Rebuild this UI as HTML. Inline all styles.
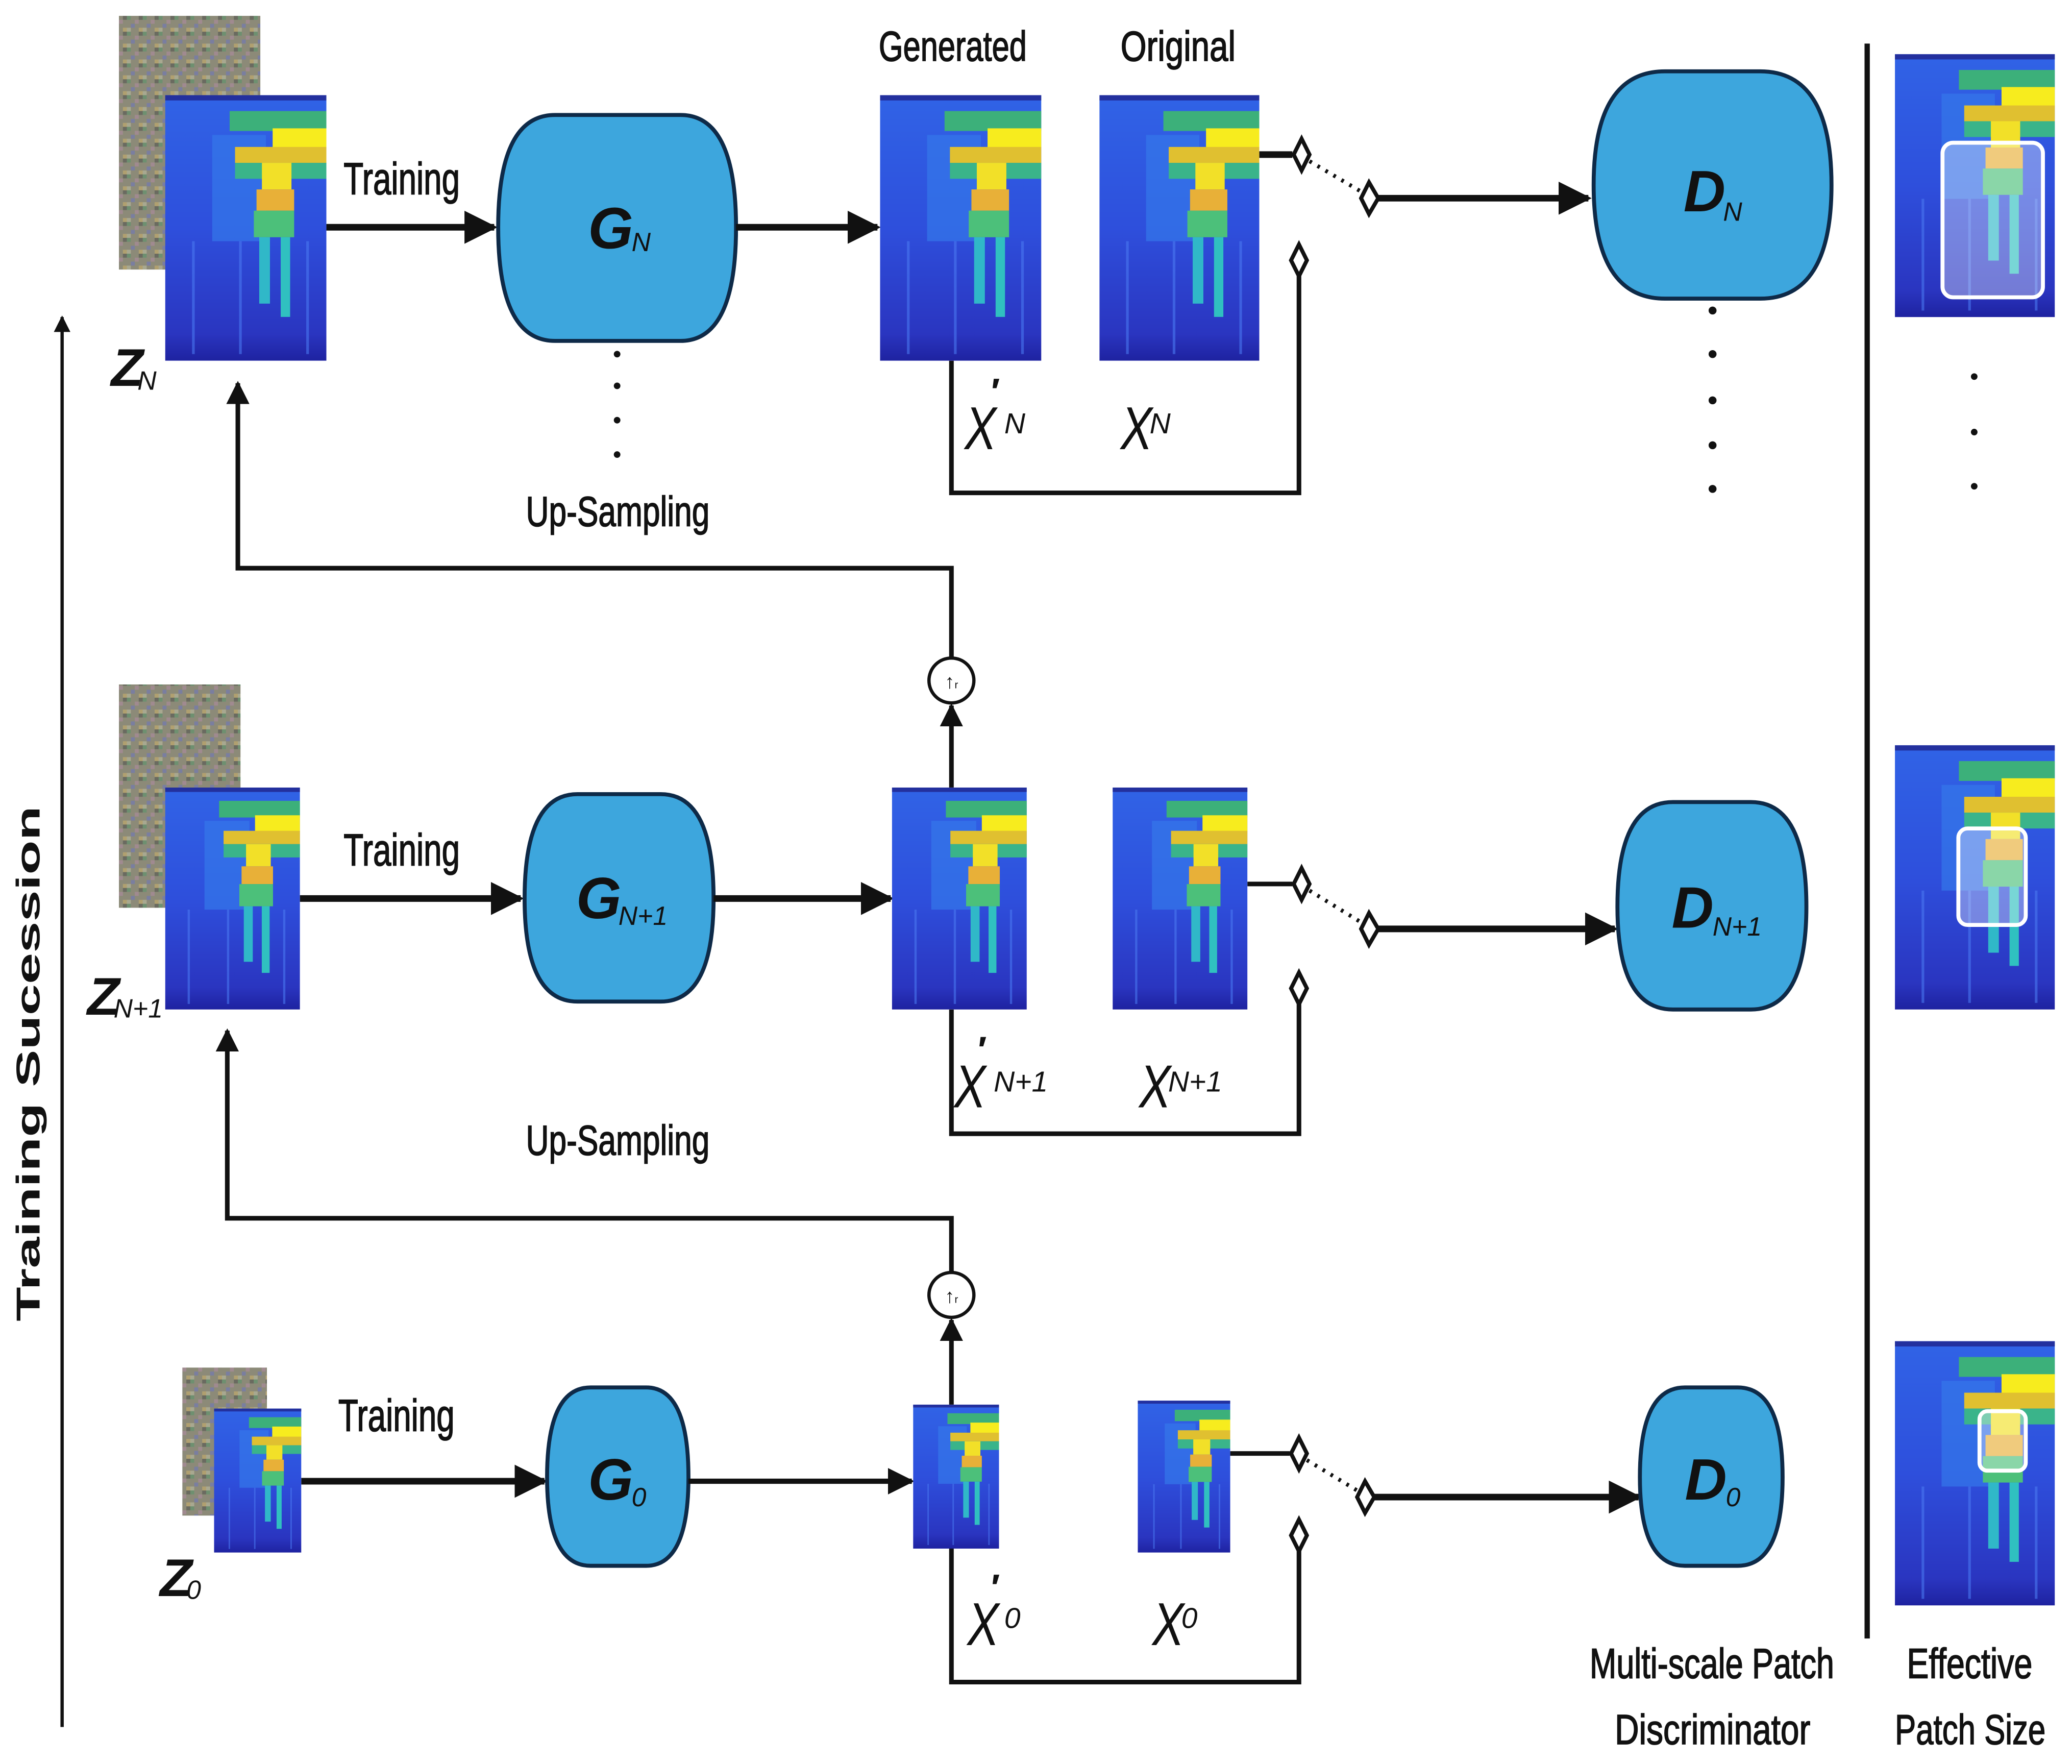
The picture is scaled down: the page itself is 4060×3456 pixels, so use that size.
<!DOCTYPE html>
<html><head><meta charset="utf-8"><style>html,body{margin:0;padding:0;background:#fff}svg{display:block}</style></head>
<body>
<svg width="4060" height="3456" viewBox="0 0 1568 1335" xmlns="http://www.w3.org/2000/svg" preserveAspectRatio="none">
<defs>
<linearGradient id="bg" x1="0" y1="0" x2="0" y2="1">
<stop offset="0" stop-color="#3063E6"/><stop offset="0.5" stop-color="#2E4FDC"/><stop offset="0.9" stop-color="#2A35C0"/><stop offset="1" stop-color="#1E22A0"/></linearGradient>
<symbol id="spec" viewBox="0 0 120 200" preserveAspectRatio="none">
<rect width="120" height="200" fill="url(#bg)"/>
<rect width="120" height="4" fill="#23309E"/>
<rect x="35" y="30" width="40" height="80" fill="#3478EA" opacity="0.7"/>
<rect x="48" y="12" width="72" height="15" fill="#3CB07A"/>
<rect x="80" y="25" width="40" height="16" fill="#F7EC1E"/>
<rect x="52" y="39" width="68" height="12" fill="#E0C030"/>
<rect x="52" y="51" width="68" height="12" fill="#3AB48A"/>
<rect x="72" y="51" width="22" height="20" fill="#F2E028"/>
<rect x="68" y="71" width="28" height="16" fill="#E8B038"/>
<rect x="66" y="87" width="30" height="20" fill="#4CC07A"/>
<rect x="70" y="107" width="8" height="50" fill="#30B8C8"/>
<rect x="86" y="107" width="7" height="60" fill="#30C0C0"/>
<rect x="20" y="110" width="2" height="85" fill="#4A78F0" opacity="0.6"/>
<rect x="55" y="110" width="2" height="85" fill="#4A78F0" opacity="0.6"/>
<rect x="105" y="110" width="2" height="85" fill="#4A78F0" opacity="0.6"/>
</symbol>
<pattern id="noise" width="12" height="12" patternUnits="userSpaceOnUse">
<rect width="12" height="12" fill="#8C8A78"/>
<rect x="0" y="0" width="3" height="3" fill="#6E9070"/><rect x="6" y="3" width="3" height="3" fill="#A08A90"/>
<rect x="3" y="6" width="3" height="3" fill="#7A7EA0"/><rect x="9" y="9" width="3" height="3" fill="#B0A070"/>
<rect x="9" y="0" width="3" height="3" fill="#6A6A60"/><rect x="0" y="9" width="3" height="3" fill="#A8A890"/>
</pattern>
<marker id="ah" viewBox="0 0 10 10" refX="9" refY="5" markerWidth="5" markerHeight="5" orient="auto" markerUnits="strokeWidth">
<path d="M0,0 L10,5 L0,10 z" fill="#111"/></marker>
</defs>
<g font-family="Liberation Sans, sans-serif" fill="#111">

<line x1="47" y1="1307" x2="47" y2="240" stroke="#111" stroke-width="2.5" marker-end="url(#ah)"/>
<text transform="translate(30,805) rotate(-90)" text-anchor="middle" font-size="25" font-weight="bold" textLength="390" lengthAdjust="spacingAndGlyphs">Training Sucession</text>

<line x1="1413" y1="33" x2="1413" y2="1240" stroke="#111" stroke-width="4"/>

<g stroke="#111" stroke-width="0.7">
<text x="260" y="147" font-size="34" textLength="88" lengthAdjust="spacingAndGlyphs">Training</text>
<text x="665" y="46" font-size="32" textLength="112" lengthAdjust="spacingAndGlyphs">Generated</text>
<text x="848" y="46" font-size="32" textLength="87" lengthAdjust="spacingAndGlyphs">Original</text>
<text x="398" y="398" font-size="32" textLength="139" lengthAdjust="spacingAndGlyphs">Up-Sampling</text>
<text x="260" y="655" font-size="34" textLength="88" lengthAdjust="spacingAndGlyphs">Training</text>
<text x="398" y="874" font-size="32" textLength="139" lengthAdjust="spacingAndGlyphs">Up-Sampling</text>
<text x="256" y="1083" font-size="34" textLength="88" lengthAdjust="spacingAndGlyphs">Training</text>
<text x="1203" y="1270" font-size="32" textLength="185" lengthAdjust="spacingAndGlyphs">Multi-scale Patch</text>
<text x="1222" y="1320" font-size="32" textLength="148" lengthAdjust="spacingAndGlyphs">Discriminator</text>
<text x="1443" y="1270" font-size="32" textLength="95" lengthAdjust="spacingAndGlyphs">Effective</text>
<text x="1434" y="1320" font-size="32" textLength="114" lengthAdjust="spacingAndGlyphs">Patch Size</text>
</g>

<!-- ROW N -->
<rect x="90" y="12" width="107" height="192" fill="url(#noise)"/>
<use href="#spec" x="125" y="72" width="122" height="201"/>
<line x1="247" y1="172" x2="374" y2="172" stroke="#111" stroke-width="5" marker-end="url(#ah)"/>
<path d="M420,87 H515 Q557,87 557,172 Q557,258 515,258 H420 Q377,258 377,172 Q377,87 420,87 Z" fill="#3DA6DD" stroke="#0E2A48" stroke-width="3"/>
<text x="445" y="188" font-size="44" font-weight="bold" font-style="italic">G</text><text x="478" y="190" font-size="20" font-style="italic">N</text>
<line x1="557" y1="172" x2="664" y2="172" stroke="#111" stroke-width="5" marker-end="url(#ah)"/>
<use href="#spec" x="666" y="72" width="122" height="201"/>
<use href="#spec" x="832" y="72" width="121" height="201"/>
<line x1="953" y1="117" x2="978" y2="117" stroke="#111" stroke-width="5"/>
<path d="M985,105 L991,117 L985,129 L979,117 Z" fill="#fff" stroke="#111" stroke-width="3"/>
<line x1="991" y1="122" x2="1030" y2="145" stroke="#111" stroke-width="3" stroke-dasharray="2,5"/>
<path d="M1036,138 L1043,150 L1036,162 L1030,150 Z" fill="#fff" stroke="#111" stroke-width="3"/>
<line x1="1043" y1="150" x2="1202" y2="150" stroke="#111" stroke-width="5" marker-end="url(#ah)"/>
<path d="M1260,54 H1332 Q1386,54 1386,140 Q1386,226 1332,226 H1260 Q1206,226 1206,140 Q1206,54 1260,54 Z" fill="#3DA6DD" stroke="#0E2A48" stroke-width="3"/>
<text x="1274" y="160" font-size="44" font-weight="bold" font-style="italic">D</text><text x="1304" y="167" font-size="20" font-style="italic">N</text>
<g fill="#111"><circle cx="467" cy="268" r="2.5"/><circle cx="467" cy="292" r="2.5"/><circle cx="467" cy="318" r="2.5"/><circle cx="467" cy="344" r="2.5"/>
<circle cx="1296" cy="235" r="3"/><circle cx="1296" cy="268" r="3"/><circle cx="1296" cy="303" r="3"/><circle cx="1296" cy="337" r="3"/><circle cx="1296" cy="370" r="3"/>
<circle cx="1494" cy="285" r="2.5"/><circle cx="1494" cy="327" r="2.5"/><circle cx="1494" cy="368" r="2.5"/></g>
<text x="730" y="340" font-size="46" font-style="italic" textLength="24" lengthAdjust="spacingAndGlyphs">X</text><text x="750" y="306" font-size="28" font-weight="bold">′</text><text x="760" y="328" font-size="22" font-style="italic">N</text>
<text x="848" y="340" font-size="46" font-style="italic" textLength="24" lengthAdjust="spacingAndGlyphs">X</text><text x="870" y="328" font-size="22" font-style="italic">N</text>
<path d="M720,273 V373 H983 V205" fill="none" stroke="#111" stroke-width="3.5"/>
<path d="M983,185 L989,197 L983,209 L977,197 Z" fill="#fff" stroke="#111" stroke-width="3"/>
<text x="84" y="292" font-size="40" font-weight="bold" font-style="italic">Z</text><text x="104" y="295" font-size="20" font-style="italic">N</text>
<path d="M720,498 V430 H180 V290" fill="none" stroke="#111" stroke-width="3.5" marker-end="url(#ah)"/>
<circle cx="720" cy="515" r="17" fill="#fff" stroke="#111" stroke-width="2.5"/>
<text x="720" y="521" font-size="15" text-anchor="middle">↑<tspan font-size="8">r</tspan></text>

<!-- ROW N+1 -->
<rect x="90" y="518" width="92" height="169" fill="url(#noise)"/>
<use href="#spec" x="125" y="596" width="102" height="168"/>
<line x1="227" y1="680" x2="394" y2="680" stroke="#111" stroke-width="5" marker-end="url(#ah)"/>
<path d="M437,601 H500 Q540,601 540,680 Q540,758 500,758 H437 Q397,758 397,680 Q397,601 437,601 Z" fill="#3DA6DD" stroke="#0E2A48" stroke-width="3"/>
<text x="436" y="695" font-size="44" font-weight="bold" font-style="italic">G</text><text x="468" y="700" font-size="20" font-style="italic">N+1</text>
<line x1="540" y1="680" x2="674" y2="680" stroke="#111" stroke-width="5" marker-end="url(#ah)"/>
<use href="#spec" x="675" y="596" width="102" height="168"/>
<use href="#spec" x="842" y="596" width="102" height="168"/>
<line x1="720" y1="596" x2="720" y2="534" stroke="#111" stroke-width="3.5" marker-end="url(#ah)"/>
<line x1="944" y1="669" x2="978" y2="669" stroke="#111" stroke-width="3.5"/>
<path d="M985,657 L991,669 L985,681 L979,669 Z" fill="#fff" stroke="#111" stroke-width="3"/>
<line x1="991" y1="674" x2="1030" y2="698" stroke="#111" stroke-width="3" stroke-dasharray="2,5"/>
<path d="M1036,691 L1043,703 L1036,715 L1030,703 Z" fill="#fff" stroke="#111" stroke-width="3"/>
<line x1="1043" y1="703" x2="1222" y2="703" stroke="#111" stroke-width="5" marker-end="url(#ah)"/>
<path d="M1266,607 H1325 Q1367,607 1367,686 Q1367,764 1325,764 H1266 Q1224,764 1224,686 Q1224,607 1266,607 Z" fill="#3DA6DD" stroke="#0E2A48" stroke-width="3"/>
<text x="1265" y="702" font-size="44" font-weight="bold" font-style="italic">D</text><text x="1296" y="708" font-size="20" font-style="italic">N+1</text>
<text x="722" y="838" font-size="46" font-style="italic" textLength="24" lengthAdjust="spacingAndGlyphs">X</text><text x="740" y="804" font-size="28" font-weight="bold">′</text><text x="752" y="826" font-size="22" font-style="italic">N+1</text>
<text x="862" y="838" font-size="46" font-style="italic" textLength="24" lengthAdjust="spacingAndGlyphs">X</text><text x="884" y="826" font-size="22" font-style="italic">N+1</text>
<path d="M720,764 V858 H983 V757" fill="none" stroke="#111" stroke-width="3.5"/>
<path d="M983,736 L989,748 L983,760 L977,748 Z" fill="#fff" stroke="#111" stroke-width="3"/>
<text x="66" y="768" font-size="40" font-weight="bold" font-style="italic">Z</text><text x="86" y="770" font-size="20" font-style="italic">N+1</text>
<path d="M720,962 V922 H172 V780" fill="none" stroke="#111" stroke-width="3.5" marker-end="url(#ah)"/>
<circle cx="720" cy="980" r="17" fill="#fff" stroke="#111" stroke-width="2.5"/>
<text x="720" y="986" font-size="15" text-anchor="middle">↑<tspan font-size="8">r</tspan></text>

<!-- ROW 0 -->
<rect x="138" y="1035" width="64" height="112" fill="url(#noise)"/>
<use href="#spec" x="162" y="1066" width="66" height="109"/>
<line x1="228" y1="1121" x2="412" y2="1121" stroke="#111" stroke-width="5" marker-end="url(#ah)"/>
<path d="M447,1050 H489 Q521,1050 521,1118 Q521,1185 489,1185 H447 Q414,1185 414,1118 Q414,1050 447,1050 Z" fill="#3DA6DD" stroke="#0E2A48" stroke-width="3"/>
<text x="445" y="1135" font-size="44" font-weight="bold" font-style="italic">G</text><text x="478" y="1140" font-size="20" font-style="italic">0</text>
<line x1="521" y1="1121" x2="690" y2="1121" stroke="#111" stroke-width="4" marker-end="url(#ah)"/>
<use href="#spec" x="691" y="1063" width="65" height="109"/>
<use href="#spec" x="861" y="1060" width="70" height="115"/>
<line x1="720" y1="1063" x2="720" y2="999" stroke="#111" stroke-width="3.5" marker-end="url(#ah)"/>
<line x1="931" y1="1100" x2="976" y2="1100" stroke="#111" stroke-width="3.5"/>
<path d="M983,1088 L989,1100 L983,1112 L977,1100 Z" fill="#fff" stroke="#111" stroke-width="3"/>
<line x1="989" y1="1105" x2="1027" y2="1128" stroke="#111" stroke-width="3" stroke-dasharray="2,5"/>
<path d="M1033,1121 L1040,1133 L1033,1145 L1027,1133 Z" fill="#fff" stroke="#111" stroke-width="3"/>
<line x1="1040" y1="1133" x2="1240" y2="1133" stroke="#111" stroke-width="5" marker-end="url(#ah)"/>
<path d="M1275,1050 H1315 Q1349,1050 1349,1118 Q1349,1185 1315,1185 H1275 Q1241,1185 1241,1118 Q1241,1050 1275,1050 Z" fill="#3DA6DD" stroke="#0E2A48" stroke-width="3"/>
<text x="1275" y="1135" font-size="44" font-weight="bold" font-style="italic">D</text><text x="1306" y="1140" font-size="20" font-style="italic">0</text>
<text x="732" y="1245" font-size="46" font-style="italic" textLength="24" lengthAdjust="spacingAndGlyphs">X</text><text x="750" y="1211" font-size="28" font-weight="bold">′</text><text x="760" y="1232" font-size="22" font-style="italic">0</text>
<text x="872" y="1245" font-size="46" font-style="italic" textLength="24" lengthAdjust="spacingAndGlyphs">X</text><text x="894" y="1232" font-size="22" font-style="italic">0</text>
<path d="M720,1172 V1273 H983 V1170" fill="none" stroke="#111" stroke-width="3.5"/>
<path d="M983,1150 L989,1162 L983,1174 L977,1162 Z" fill="#fff" stroke="#111" stroke-width="3"/>
<text x="121" y="1208" font-size="40" font-weight="bold" font-style="italic">Z</text><text x="141" y="1210" font-size="20" font-style="italic">0</text>

<use href="#spec" x="1434" y="41" width="121" height="199"/>
<rect x="1470" y="108" width="76" height="117" rx="8" fill="#fff" fill-opacity="0.35" stroke="#fff" stroke-width="3"/>
<use href="#spec" x="1434" y="564" width="121" height="200"/>
<rect x="1482" y="627" width="51" height="73" rx="7" fill="#fff" fill-opacity="0.35" stroke="#fff" stroke-width="3"/>
<use href="#spec" x="1434" y="1015" width="121" height="200"/>
<rect x="1498" y="1068" width="35" height="45" rx="6" fill="#fff" fill-opacity="0.35" stroke="#fff" stroke-width="3"/>
</g>
</svg>
</body></html>
